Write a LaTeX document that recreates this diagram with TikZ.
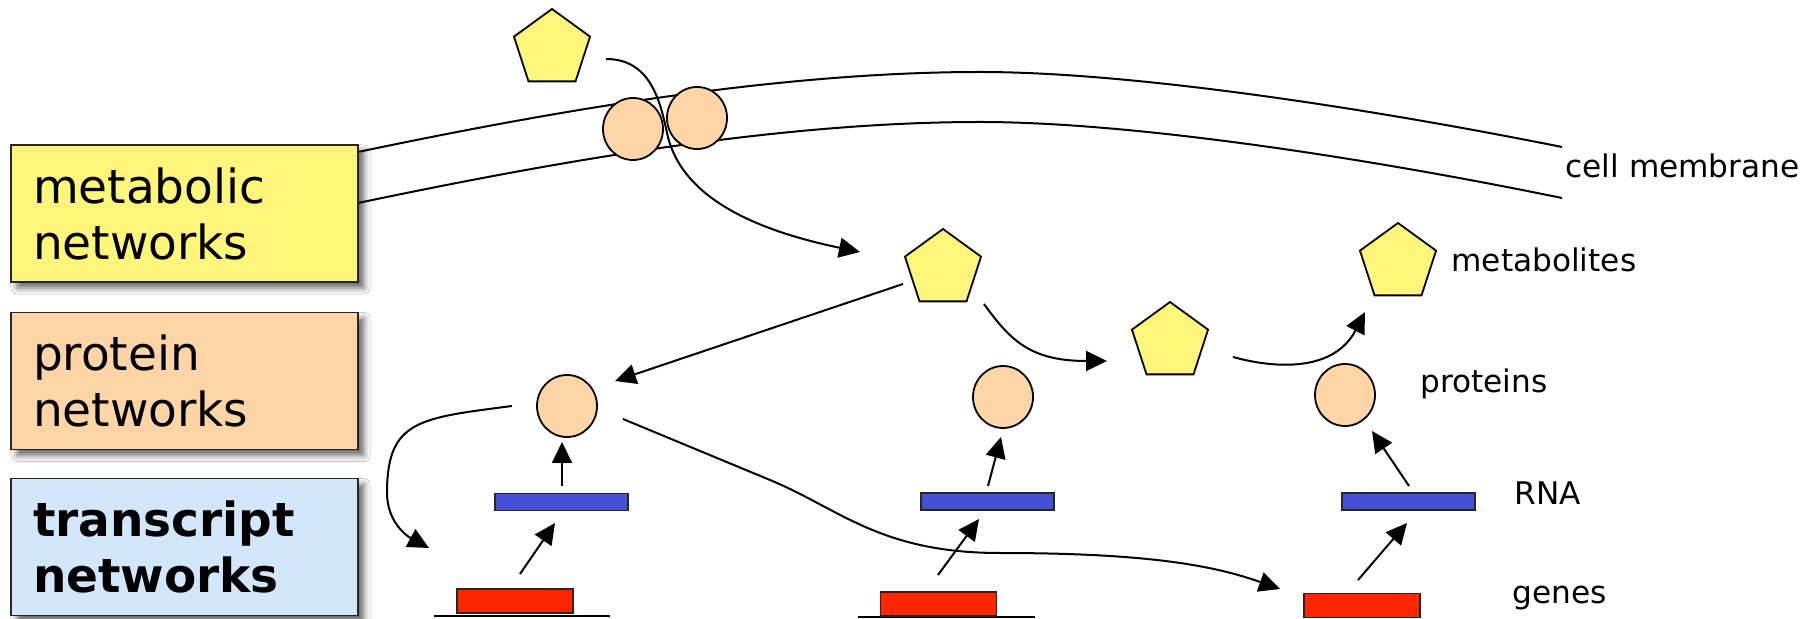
\documentclass[tikz,border=0pt]{standalone}
\usepackage{fontspec}
\setmainfont{DejaVu Sans}
\usetikzlibrary{shapes.geometric,arrows.meta,calc,shadows.blur}
\definecolor{ylw}{RGB}{255,245,122}
\definecolor{pch}{RGB}{255,213,168}
\definecolor{lbl}{RGB}{211,231,252}
\definecolor{rnab}{RGB}{68,80,214}
\definecolor{gnr}{RGB}{255,38,0}
\tikzset{
  arr/.style={line width=1pt,-{Triangle[length=10.5pt,width=10pt]}},
  mem/.style={line width=1pt},
  pent/.style={regular polygon,regular polygon sides=5,minimum size=40pt,inner sep=0pt,draw,line width=0.9pt,fill=ylw},
  prot/.style={ellipse,minimum width=30pt,minimum height=31pt,inner sep=0pt,draw,line width=0.9pt,fill=pch},
  rnabar/.style={rectangle,minimum width=66.5pt,minimum height=8.5pt,inner sep=0pt,draw=black!85,line width=0.9pt,fill=rnab},
  genebar/.style={rectangle,minimum width=58pt,minimum height=12pt,inner sep=0pt,draw=black!85,line width=0.9pt,fill=gnr},
  netbox/.style={rectangle,draw=black!85,line width=0.8pt,minimum width=173.5pt,minimum height=68.5pt,
    text width=151.5pt,inner xsep=11pt,align=left,font=\fontsize{23.5}{28}\selectfont,
    blur shadow={shadow xshift=3pt,shadow yshift=-3pt,shadow blur radius=3pt,shadow opacity=60}},
  lab/.style={anchor=base west,inner sep=0pt,font=\fontsize{15.6}{18}\selectfont},
}
\begin{document}
\begin{tikzpicture}[x=0.5pt,y=-0.5pt]
\useasboundingbox (0,0) rectangle (1818,619);
\fill[white] (0,0) rectangle (1818,619);

% cell membrane
\draw[mem] (358,152) .. controls (558,110) and (780,72) .. (980,72) .. controls (1130,72) and (1362,107) .. (1562,147);
\draw[mem] (358,203) .. controls (558,161) and (780,122) .. (980,122) .. controls (1130,122) and (1362,157) .. (1562,198);

% network boxes
\node[netbox,fill=ylw] (mb) at (184.5,213.5) {metabolic\\networks};
\node[netbox,fill=pch] (pb) at (184.5,381) {protein\\networks};
\node[netbox,fill=lbl] (tb) at (184.5,547) {\bfseries transcript\\networks};

% membrane transporters
\node[prot] (mc1) at (633,129) {};
\node[prot] (mc2) at (697,118) {};

% metabolites
\node[pent] (pent0) at (552,49) {};
\node[pent] (pent1) at (943,269) {};
\node[pent] (pent2) at (1170,342) {};
\node[pent] (pent3) at (1398,263) {};

% proteins
\node[prot] (p1) at (567,406) {};
\node[prot] (p2) at (1003,397) {};
\node[prot] (p3) at (1345,395) {};

% RNA
\node[rnabar] (r1) at (561.5,502) {};
\node[rnabar] (r2) at (987.5,501.5) {};
\node[rnabar] (r3) at (1408.5,501.5) {};

% genes with DNA line
\draw[line width=1.4pt] (434,616) -- (610,616);
\draw[line width=1.4pt] (858,617) -- (1035,617);
\node[genebar] (g1) at (515,601) {};
\node[genebar] (g2) at (938.5,604) {};
\node[genebar] (g3) at (1362,605.5) {};

% labels
\node[lab] (lcm) at (1565,178) {cell membrane};
\node[lab] (lmet) at (1451,272) {metabolites};
\node[lab] (lpro) at (1420,393) {proteins};
\node[lab] (lrna) at (1514,504) {RNA};
\node[lab] (lgen) at (1512,603) {genes};

% expression arrows
\draw[arr] ($(g1)+(5,-27)$) -- ($(r1)+(-6.5,21)$);
\draw[arr] ($(r1)+(0.5,-16)$) -- ($(p1)+(-5,36)$);
\draw[arr] ($(g2)+(-0.5,-29)$) -- ($(r2)+(-8.5,17.5)$);
\draw[arr] ($(r2)+(0.5,-15.5)$) -- ($(p2)+(-2,40)$);
\draw[arr] ($(g3)+(-4,-25.5)$) -- ($(r3)+(-1.5,21.5)$);
\draw[arr] ($(r3)+(0.5,-15.5)$) -- ($(p3)+(27,36)$);

% metabolic / regulatory arrows
\draw[arr] ($(pent0)+(54,10)$) .. controls (650,59) and (660,100) .. (667,133)
   .. controls (678,185) and (730,225) .. ($(pent1)+(-83,-17)$);
\draw[arr] ($(pent1)+(-40,15)$) -- ($(p1)+(48,-25)$);
\draw[arr] ($(pent1)+(41,35)$) .. controls (1010,340) and (1030,361) .. ($(pent2)+(-63,19)$);
\draw[arr] ($(pent2)+(63,15)$) .. controls (1280,370) and (1335,370) .. ($(pent3)+(-33,49)$);
\draw[arr] ($(p1)+(-55,0)$) .. controls (420,418) and (388,420) .. (387,490)
   .. controls (386,520) and (405,535) .. ($(g1)+(-86,-53)$);
\draw[arr] ($(p1)+(56,13)$) -- (770,480) .. controls (840,509) and (880,553) .. (1000,553)
   .. controls (1150,553) and (1215,566) .. ($(g3)+(-82,-16.5)$);
\end{tikzpicture}
\end{document}
